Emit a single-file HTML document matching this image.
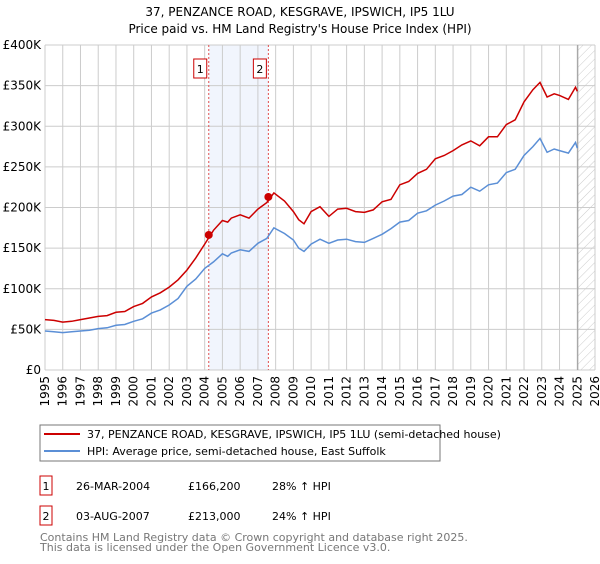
<!DOCTYPE html>
<html><head><meta charset="utf-8"><style>
body{margin:0;background:#fff;font-family:"DejaVu Sans","Liberation Sans",sans-serif;}
svg text{font-family:"DejaVu Sans","Liberation Sans",sans-serif;}
</style></head><body>
<svg id="chart" width="600" height="560" xmlns="http://www.w3.org/2000/svg">
<text x="300" y="16" text-anchor="middle" font-size="12" fill="#000">37, PENZANCE ROAD, KESGRAVE, IPSWICH, IP5 1LU</text>
<text x="300" y="33" text-anchor="middle" font-size="12" fill="#000">Price paid vs. HM Land Registry's House Price Index (HPI)</text>
<defs><pattern id="hatch" width="6" height="6" patternUnits="userSpaceOnUse" patternTransform="rotate(45)"><line x1="0" y1="0" x2="0" y2="6" stroke="#ccc" stroke-width="1"/></pattern></defs>
<g id="plot"></g>
<rect x="40" y="425" width="400" height="36" fill="#fff" stroke="#777"/>
<line x1="44" y1="434" x2="80" y2="434" stroke="#cc0000" stroke-width="2"/>
<text x="87" y="438" font-size="11">37, PENZANCE ROAD, KESGRAVE, IPSWICH, IP5 1LU (semi-detached house)</text>
<line x1="44" y1="451" x2="80" y2="451" stroke="#5b8fd6" stroke-width="2"/>
<text x="87" y="455" font-size="11">HPI: Average price, semi-detached house, East Suffolk</text>
<rect x="40" y="476" width="12" height="19" fill="#fff" stroke="#cc0000"/>
<text x="46" y="490" font-size="11" text-anchor="middle">1</text>
<text x="76" y="490" font-size="11">26-MAR-2004</text>
<text x="188" y="490" font-size="11">£166,200</text>
<text x="272" y="490" font-size="11">28% ↑ HPI</text>
<rect x="40" y="506" width="12" height="19" fill="#fff" stroke="#cc0000"/>
<text x="46" y="520" font-size="11" text-anchor="middle">2</text>
<text x="76" y="520" font-size="11">03-AUG-2007</text>
<text x="188" y="520" font-size="11">£213,000</text>
<text x="272" y="520" font-size="11">24% ↑ HPI</text>
<text x="40" y="541" font-size="11" fill="#777">Contains HM Land Registry data © Crown copyright and database right 2025.</text>
<text x="40" y="551" font-size="11" fill="#777">This data is licensed under the Open Government Licence v3.0.</text>
</svg>
<script>
const hpiYears=[1995,1995.5,1996,1996.5,1997,1997.5,1998,1998.5,1999,1999.5,2000,2000.5,2001,2001.5,2002,2002.5,2003,2003.5,2004,2004.5,2005,2005.3,2005.5,2006,2006.5,2007,2007.5,2007.9,2008.5,2009,2009.3,2009.6,2010,2010.5,2011,2011.5,2012,2012.5,2013,2013.5,2014,2014.5,2015,2015.5,2016,2016.5,2017,2017.5,2018,2018.5,2019,2019.5,2020,2020.5,2021,2021.5,2022,2022.5,2022.9,2023.3,2023.7,2024,2024.5,2024.9,2025];
const hpiValues=[48,47,46,47,48,49,51,52,55,56,60,63,70,74,80,88,103,112,125,133,143,140,144,148,146,156,162,175,168,160,150,146,155,161,156,160,161,158,157,162,167,174,182,184,193,196,203,208,214,216,225,220,228,230,243,247,264,275,285,268,272,270,267,280,273];
const propYears=[1995,1995.5,1996,1996.5,1997,1997.5,1998,1998.5,1999,1999.5,2000,2000.5,2001,2001.5,2002,2002.5,2003,2003.5,2004,2004.5,2005,2005.3,2005.5,2006,2006.5,2007,2007.5,2007.9,2008.5,2009,2009.3,2009.6,2010,2010.5,2011,2011.5,2012,2012.5,2013,2013.5,2014,2014.5,2015,2015.5,2016,2016.5,2017,2017.5,2018,2018.5,2019,2019.5,2020,2020.5,2021,2021.5,2022,2022.5,2022.9,2023.3,2023.7,2024,2024.5,2024.9,2025];
const propValues=[62,61,59,60,62,64,66,67,71,72,78,82,90,95,102,111,123,138,155,172,184,182,187,191,187,198,206,218,208,195,185,180,195,201,189,198,199,195,194,197,207,210,228,232,242,247,260,264,270,277,282,276,287,287,302,308,330,345,354,336,340,338,333,348,343];
const saleYears=[2004.23,2007.59];
const saleValues=[166.2,213];
const saleLabels=["1","2"];
const yTicks=[0,50,100,150,200,250,300,350,400];
const yTickLabels=["£0","£50K","£100K","£150K","£200K","£250K","£300K","£350K","£400K"];
const xTicks=[1995,1996,1997,1998,1999,2000,2001,2002,2003,2004,2005,2006,2007,2008,2009,2010,2011,2012,2013,2014,2015,2016,2017,2018,2019,2020,2021,2022,2023,2024,2025,2026];

const X0=45,X1=595,Y0=370,Y1=45;
const xs=y=>X0+(y-1995)/(2026-1995)*(X1-X0);
const ys=v=>Y0-v/400*(Y0-Y1);
const NS="http://www.w3.org/2000/svg";
const g=document.getElementById('plot');
function mk(t,a){const e=document.createElementNS(NS,t);for(const k in a)e.setAttribute(k,a[k]);g.appendChild(e);return e;}
let e;
e=mk('rect',{x:xs(saleYears[0]),y:Y1,width:xs(saleYears[1])-xs(saleYears[0]),height:Y0-Y1,fill:'#eef3fc',opacity:0.8});


e=mk('rect',{x:xs(2025.03),y:Y1,width:X1-xs(2025.03),height:Y0-Y1,fill:'url(#hatch)'});


yTicks.forEach((v,i)=>{
 e=mk('line',{x1:X0,x2:X1,y1:ys(v),y2:ys(v),stroke:'#ccc'});
 
 
 e=mk('text',{x:X0-4,y:ys(v)+4,'text-anchor':'end','font-size':12});
 e.textContent=yTickLabels[i];
 
 
});
xTicks.forEach(t=>{
 e=mk('line',{x1:xs(t),x2:xs(t),y1:Y1,y2:Y0,stroke:'#ccc'});
 
 
 e=mk('text',{x:0,y:0,'text-anchor':'end','font-size':12,transform:`translate(${xs(t)+4},${Y0+6}) rotate(-90)`});
 e.textContent=t;
 
 
});
e=mk('line',{x1:xs(2025.03),x2:xs(2025.03),y1:Y1,y2:Y0,stroke:'#999','stroke-width':1});


saleYears.forEach((s,i)=>{
 e=mk('line',{x1:xs(s),x2:xs(s),y1:Y1,y2:Y0,stroke:'#e05050','stroke-dasharray':'2,2'});
 
 
 e=mk('rect',{x:xs(s)-15,y:59,width:13,height:19,fill:'#fff',stroke:'#cc0000'});
 
 
 e=mk('text',{x:xs(s)-8.5,y:73,'text-anchor':'middle','font-size':11});
 e.textContent=saleLabels[i];
 
 
});
const pts=(xa,va)=>xa.map((y,i)=>xs(y).toFixed(1)+','+ys(va[i]).toFixed(1)).join(' ');
e=mk('polyline',{points:pts(hpiYears,hpiValues),fill:'none',stroke:'#5b8fd6','stroke-width':1.5});


e=mk('polyline',{points:pts(propYears,propValues),fill:'none',stroke:'#cc0000','stroke-width':1.5});


saleYears.forEach((s,i)=>{
 e=mk('circle',{cx:xs(s),cy:ys(saleValues[i]),r:4,fill:'#cc0000'});
 
 
});
</script>
</body></html>
